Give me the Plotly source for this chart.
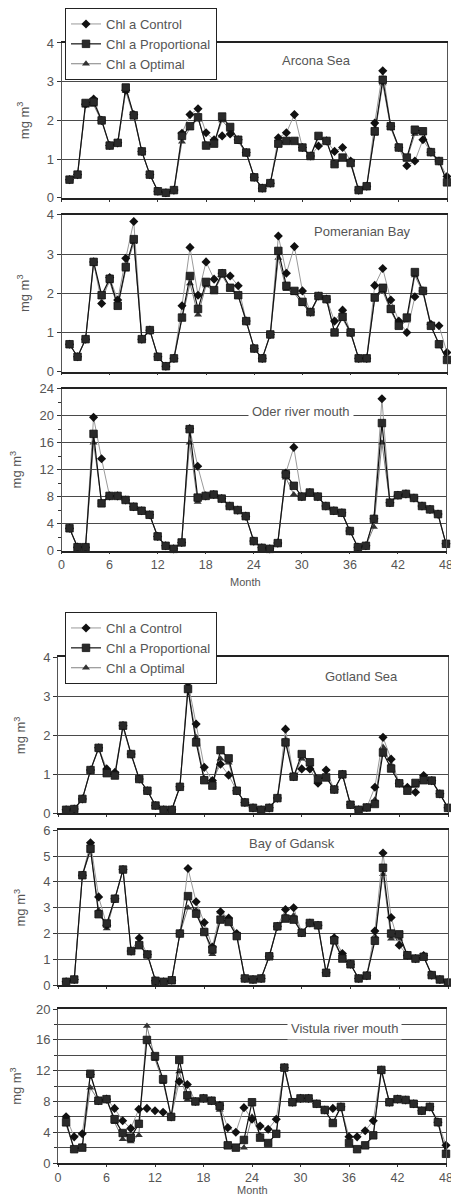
import plotly.graph_objects as go

months = list(range(1, 49))

panel_names = ["Arcona Sea", "Pomeranian Bay", "Oder river mouth",
               "Gotland Sea", "Bay of Gdansk", "Vistula river mouth"]

arcona_control = [0.47,0.6,2.42,2.55,2.0,1.35,1.42,2.78,2.15,1.2,0.6,0.17,0.13,0.2,1.67,2.15,2.3,1.68,1.5,1.6,1.65,1.5,1.17,0.53,0.25,0.38,1.55,1.68,2.15,1.3,1.08,1.34,1.47,1.2,1.3,0.95,0.2,0.3,1.93,3.28,1.85,1.3,0.83,0.95,1.5,1.18,0.95,0.55]
arcona_prop = [0.47,0.6,2.45,2.48,2.0,1.35,1.42,2.85,2.13,1.2,0.6,0.17,0.13,0.2,1.6,1.85,2.08,1.35,1.4,2.1,1.83,1.5,1.17,0.53,0.25,0.38,1.4,1.47,1.47,1.3,1.08,1.6,1.47,0.87,1.04,0.9,0.2,0.3,1.72,3.05,1.85,1.3,1.04,1.76,1.72,1.18,0.95,0.4]
arcona_opt = [0.47,0.6,2.38,2.4,1.98,1.33,1.4,2.75,2.1,1.18,0.6,0.17,0.13,0.2,1.45,1.8,2.05,1.38,1.42,2.0,1.75,1.45,1.15,0.53,0.25,0.38,1.38,1.45,1.47,1.28,1.08,1.55,1.45,0.9,1.0,0.88,0.2,0.3,1.65,2.95,1.8,1.28,1.0,1.65,1.7,1.15,0.95,0.42]

pomer_control = [0.7,0.38,0.83,2.8,1.74,2.4,1.83,2.89,3.83,0.83,1.06,0.38,0.14,0.34,1.68,3.17,1.95,2.8,2.36,2.51,2.44,2.19,1.29,0.59,0.34,0.95,3.46,2.51,3.19,2.06,1.52,1.93,1.85,1.29,1.57,1.0,0.34,0.34,2.2,2.63,1.83,1.29,1.0,1.91,2.06,1.21,1.17,0.49]
pomer_prop = [0.7,0.38,0.83,2.8,1.95,2.37,1.68,2.67,3.38,0.83,1.06,0.38,0.14,0.34,1.38,2.44,1.6,2.29,2.08,2.51,2.14,1.95,1.29,0.59,0.34,0.95,3.08,2.19,2.06,1.78,1.52,1.93,1.85,1.0,1.4,1.0,0.34,0.34,1.89,2.14,1.6,1.17,1.38,2.54,2.06,1.17,0.7,0.3]
pomer_opt = [0.7,0.38,0.83,2.75,1.9,2.3,1.65,2.6,3.3,0.83,1.06,0.38,0.14,0.34,1.35,2.25,1.45,2.2,2.05,2.45,2.1,1.92,1.27,0.59,0.34,0.95,2.9,2.1,2.0,1.72,1.5,1.9,1.82,1.02,1.35,0.98,0.34,0.34,1.85,2.05,1.55,1.15,1.3,2.45,2.02,1.15,0.72,0.3]

oder_control = [3.3,0.5,0.5,19.75,13.6,8.1,8.1,7.5,6.5,5.9,5.3,2.1,0.7,0.25,1.2,18.1,12.5,8.1,8.3,7.7,6.6,6.0,5.1,1.4,0.4,0.25,1.1,11.5,15.3,8.0,8.6,8.0,6.6,5.9,5.6,2.9,0.5,0.7,4.7,22.5,7.1,8.2,8.4,7.8,6.6,6.1,5.4,1.0]
oder_prop = [3.3,0.5,0.5,17.3,7.0,8.1,8.1,7.5,6.5,5.9,5.3,2.1,0.7,0.25,1.2,18.0,7.85,8.1,8.3,7.7,6.6,6.0,5.1,1.4,0.4,0.25,1.1,11.3,9.6,8.0,8.6,8.0,6.6,5.9,5.6,2.9,0.5,0.7,4.7,18.9,7.1,8.2,8.4,7.8,6.6,6.1,5.4,1.0]
oder_opt = [3.3,0.5,0.5,16.0,7.2,8.1,8.1,7.5,6.5,5.9,5.3,2.1,0.7,0.25,1.2,16.0,7.2,8.1,8.3,7.7,6.6,6.0,5.1,1.4,0.4,0.25,1.1,10.8,8.3,8.0,8.6,8.0,6.6,5.9,5.6,2.9,0.5,0.7,3.5,16.0,7.1,8.2,8.4,7.8,6.6,6.1,5.4,1.0]

gotland_control = [0.09,0.11,0.37,1.11,1.68,1.14,1.05,2.25,1.52,0.88,0.58,0.2,0.09,0.09,0.68,3.35,2.29,1.18,0.84,1.26,0.98,0.58,0.28,0.14,0.09,0.14,0.39,2.16,0.94,1.14,1.14,0.77,1.11,0.61,1.0,0.22,0.09,0.15,0.67,1.95,1.39,0.77,0.67,0.54,0.97,0.84,0.5,0.14]
gotland_prop = [0.09,0.11,0.37,1.11,1.68,1.03,0.97,2.25,1.52,0.88,0.58,0.2,0.09,0.09,0.68,3.19,1.82,0.85,0.71,1.62,1.41,0.58,0.28,0.14,0.09,0.14,0.39,1.82,0.94,1.52,1.31,0.88,0.92,0.61,1.0,0.22,0.09,0.15,0.24,1.56,1.15,0.77,0.58,0.78,0.85,0.84,0.5,0.14]
gotland_opt = [0.09,0.11,0.37,1.1,1.65,1.05,0.98,2.2,1.5,0.88,0.58,0.2,0.09,0.09,0.68,3.25,1.95,0.9,0.72,1.4,1.3,0.58,0.28,0.14,0.09,0.14,0.39,1.9,0.94,1.4,1.25,0.85,0.95,0.61,1.0,0.22,0.09,0.15,0.35,1.7,1.25,0.77,0.6,0.7,0.9,0.84,0.5,0.14]

gdansk_control = [0.13,0.22,4.26,5.52,3.42,2.32,3.35,4.48,1.32,1.83,1.19,0.17,0.13,0.19,2.0,4.52,3.23,2.43,1.48,2.84,2.6,2.0,0.26,0.22,0.26,1.12,2.28,2.93,3.0,2.03,2.41,2.32,0.48,1.84,1.23,0.81,0.26,0.37,2.1,5.12,2.62,1.55,1.16,1.03,1.15,0.39,0.22,0.1]
gdansk_prop = [0.13,0.22,4.26,5.29,2.75,2.39,3.35,4.48,1.32,1.55,1.19,0.17,0.13,0.19,2.0,3.45,2.77,2.06,1.38,2.54,2.45,1.9,0.26,0.22,0.26,1.12,2.28,2.58,2.54,2.03,2.41,2.32,0.48,1.74,1.03,0.81,0.26,0.37,1.72,4.55,2.0,1.97,1.16,1.03,1.1,0.39,0.22,0.1]
gdansk_opt = [0.13,0.22,4.26,5.2,2.9,2.2,3.35,4.45,1.3,1.5,1.19,0.17,0.13,0.19,2.0,3.0,2.9,2.1,1.2,2.84,2.5,1.95,0.26,0.22,0.26,1.12,2.28,2.7,2.7,2.03,2.41,2.32,0.48,1.65,1.05,0.81,0.26,0.37,1.9,4.3,1.8,1.8,1.16,1.03,1.1,0.39,0.22,0.1]

vistula_control = [6.0,3.4,3.8,11.5,8.1,8.3,7.1,5.5,4.5,7.0,7.1,6.8,6.6,6.0,10.6,10.2,8.0,8.4,8.1,7.5,4.6,4.0,7.2,5.7,4.8,4.4,5.7,12.4,7.9,8.4,8.4,7.7,6.9,7.1,7.3,3.4,3.4,4.2,5.5,12.1,7.9,8.3,8.2,7.7,6.8,7.3,5.3,2.3]
vistula_prop = [5.3,1.8,2.0,11.6,8.1,8.3,5.7,3.9,3.3,5.1,16.0,13.9,10.9,6.0,13.4,8.8,8.0,8.4,8.1,7.4,2.3,2.0,3.0,7.9,3.3,2.6,3.8,12.4,7.9,8.4,8.4,7.7,6.9,5.2,7.3,2.6,1.8,2.3,3.6,12.1,7.9,8.3,8.2,7.7,6.8,7.3,5.3,1.2]
vistula_opt = [5.0,1.8,2.2,9.8,8.1,8.3,5.3,3.1,2.8,3.6,17.8,13.5,10.5,6.0,11.9,8.2,8.0,8.4,8.1,6.9,2.1,1.9,2.0,6.0,3.6,2.6,3.8,12.2,7.9,8.4,8.4,7.7,6.9,5.3,7.3,2.6,1.8,2.3,3.4,11.9,7.9,8.3,8.2,7.7,6.8,7.3,5.5,1.2]

series_names = ["Chl a Control", "Chl a Proportional", "Chl a Optimal"]
x_ticks = [0, 6, 12, 18, 24, 30, 36, 42, 48]

panels = [
    (arcona_control, arcona_prop, arcona_opt),
    (pomer_control, pomer_prop, pomer_opt),
    (oder_control, oder_prop, oder_opt),
    (gotland_control, gotland_prop, gotland_opt),
    (gdansk_control, gdansk_prop, gdansk_opt),
    (vistula_control, vistula_prop, vistula_opt),
]
y_max = [4, 4, 24, 4, 6, 20]
y_dtick = [1, 1, 4, 1, 1, 4]

# The page body has an 8px margin: size the figure so it fits the window,
# and express positions in window pixels shifted by that margin.
OFF = 8
W, H = 459 - OFF, 1196 - OFF


def px(xw):
    return (xw - OFF) / W


def py(yw):
    return 1 - (yw - OFF) / H


x_px = [(61.5, 447), (61.5, 447), (61.5, 446), (58, 448), (58, 448), (58, 446)]
y_px = [(42, 197), (214, 371), (388, 550), (657, 813), (830, 985), (1009, 1163)]

label_pos = [(316, 60, False), (362, 231, False), (301, 411, True),
             (361, 676, False), (292, 843, False), (344, 1028, True)]
# (x centre, top edge) of the "Month" titles in window pixels
month_pos = [(245, 574), (252, 1183)]

FONT = "Liberation Sans, Arial, sans-serif"
GRID = "#4a4a4a"
TXT = "#555555"

styles = [
    dict(line=dict(color="#9a9a9a", width=1),
         marker=dict(symbol="diamond", size=7, color="#111111")),
    dict(line=dict(color="#111111", width=1.2),
         marker=dict(symbol="square", size=7.5, color="#2a2a2a",
                     line=dict(color="#111111", width=0.8))),
    dict(line=dict(color="#808080", width=1),
         marker=dict(symbol="triangle-up", size=7, color="#333333")),
]
draw_order = [2, 0, 1]  # control & optimal below, proportional on top

fig = go.Figure()
for i, data in enumerate(panels):
    k = "" if i == 0 else str(i + 1)
    leg = "legend" if i == 0 else ("legend2" if i == 3 else None)
    for j in draw_order:
        fig.add_trace(go.Scatter(
            x=months, y=data[j], mode="lines+markers", name=series_names[j],
            xaxis="x" + k, yaxis="y" + k,
            showlegend=leg is not None, legend=leg if leg else "legend",
            legendrank=j + 1, cliponaxis=False,
            **styles[j]))

    x0, x1 = x_px[i]
    yt, yb = y_px[i]
    bottom = i in (2, 5)
    fig.layout["xaxis" + k] = dict(
        domain=[px(x0), px(x1)], anchor="y" + k, range=[0, 48],
        tickvals=x_ticks, ticks="outside", ticklen=2, tickcolor="#333",
        showticklabels=bottom, showgrid=False, zeroline=False,
        showline=True, linecolor="#222", linewidth=1.5, mirror=True,
        ticklabeloverflow="allow", automargin=False,
        tickfont=dict(family=FONT, size=12.5, color=TXT),
    )
    yax = dict(
        domain=[py(yb), py(yt)], anchor="x" + k,
        range=[0, y_max[i]], dtick=y_dtick[i], ticks="outside", ticklen=4,
        tickcolor="#333", showgrid=True, gridcolor=GRID, gridwidth=1,
        zeroline=False, showline=True, linecolor="#555", linewidth=1,
        mirror=True, automargin=False,
        tickfont=dict(family=FONT, size=13, color=TXT),
        title=dict(text="mg m<sup>3</sup>",
                   font=dict(family=FONT, size=13, color=TXT), standoff=14),
    )
    if i == 2:
        yax["minor"] = dict(dtick=2, ticks="outside", ticklen=3,
                            tickcolor="#333", showgrid=False)
    if i == 5:
        yax["minor"] = dict(dtick=2, ticks="outside", ticklen=3,
                            tickcolor="#333", showgrid=True,
                            gridcolor=GRID, gridwidth=1)
    fig.layout["yaxis" + k] = yax

    lx, ly, bg = label_pos[i]
    fig.add_annotation(
        text=panel_names[i], x=px(lx), y=py(ly), xref="paper", yref="paper",
        showarrow=False, xanchor="center", yanchor="middle",
        font=dict(family=FONT, size=13, color=TXT),
        bgcolor="white" if bg else "rgba(0,0,0,0)", borderpad=3)

for mx, my in month_pos:
    fig.add_annotation(
        text="Month", x=px(mx), y=py(my), xref="paper", yref="paper",
        showarrow=False, xanchor="center", yanchor="top",
        font=dict(family=FONT, size=11, color=TXT), borderpad=0)

leg_common = dict(
    xanchor="left", yanchor="top", bgcolor="white", bordercolor="#222",
    borderwidth=1, font=dict(family=FONT, size=13, color=TXT),
    itemwidth=30, tracegroupgap=0, traceorder="normal",
)
fig.update_layout(
    width=W, height=H, margin=dict(l=0, r=0, t=0, b=0),
    paper_bgcolor="white", plot_bgcolor="white",
    legend=dict(x=px(65), y=py(7), **leg_common),
    legend2=dict(x=px(65), y=py(612), **leg_common),
)

fig.write_html("out.html")
